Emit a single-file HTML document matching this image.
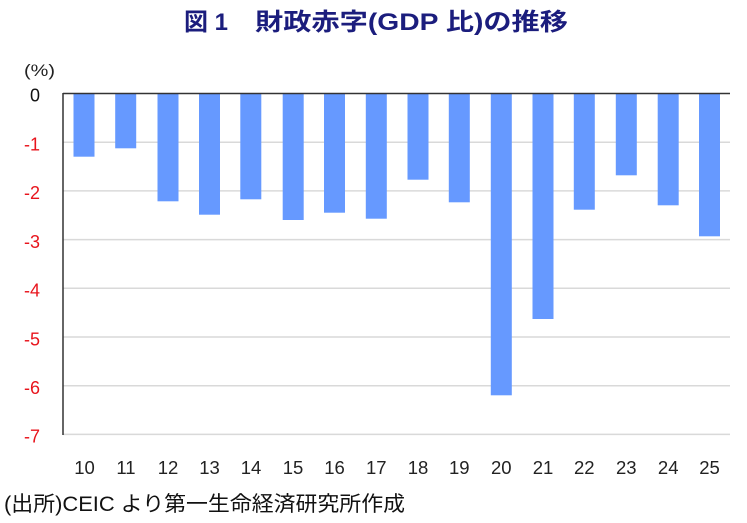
<!DOCTYPE html>
<html>
<head>
<meta charset="utf-8">
<style>
  html, body { margin: 0; padding: 0; background: #ffffff; }
  body { width: 747px; height: 523px; overflow: hidden; }
  svg { display: block; }
  text { font-family: "Liberation Sans", "Noto Sans CJK JP", sans-serif; }
</style>
</head>
<body>
<svg width="747" height="523" viewBox="0 0 747 523" xmlns="http://www.w3.org/2000/svg">
  <rect x="0" y="0" width="747" height="523" fill="#ffffff"/>

  <!-- Title -->
  <text x="184" y="30" font-size="24" font-weight="bold" fill="#1b1d7d">図 1</text>
  <text x="255" y="30" font-size="24" font-weight="bold" fill="#1b1d7d" textLength="313" lengthAdjust="spacingAndGlyphs">財政赤字(GDP 比)の推移</text>

  <!-- (%) -->
  <text x="24" y="76" font-size="17" fill="#222" textLength="31" lengthAdjust="spacingAndGlyphs">(%)</text>

  <!-- Gridlines -->
  <g stroke="#d9d9d9" stroke-width="1.5">
    <line x1="63" y1="142.2" x2="730" y2="142.2"/>
    <line x1="63" y1="190.9" x2="730" y2="190.9"/>
    <line x1="63" y1="239.6" x2="730" y2="239.6"/>
    <line x1="63" y1="288.3" x2="730" y2="288.3"/>
    <line x1="63" y1="337.0" x2="730" y2="337.0"/>
    <line x1="63" y1="385.7" x2="730" y2="385.7"/>
    <line x1="63" y1="434.4" x2="730" y2="434.4"/>
  </g>

  <!-- Bars -->
  <g fill="#6699ff">
    <rect x="73.5" y="93.5" width="21" height="63.2"/>
    <rect x="115.2" y="93.5" width="21" height="54.8"/>
    <rect x="157.5" y="93.5" width="21" height="107.8"/>
    <rect x="199.0" y="93.5" width="21" height="121.2"/>
    <rect x="240.3" y="93.5" width="21" height="105.8"/>
    <rect x="282.7" y="93.5" width="21" height="126.5"/>
    <rect x="324.0" y="93.5" width="21" height="119.2"/>
    <rect x="365.8" y="93.5" width="21" height="125.2"/>
    <rect x="407.5" y="93.5" width="21" height="86.2"/>
    <rect x="448.8" y="93.5" width="21" height="108.8"/>
    <rect x="490.8" y="93.5" width="21" height="301.8"/>
    <rect x="532.5" y="93.5" width="21" height="225.5"/>
    <rect x="573.8" y="93.5" width="21" height="116.2"/>
    <rect x="615.8" y="93.5" width="21" height="81.8"/>
    <rect x="657.7" y="93.5" width="21" height="111.8"/>
    <rect x="699.0" y="93.5" width="21" height="142.8"/>
  </g>

  <!-- Axes -->
  <line x1="63" y1="93.5" x2="730" y2="93.5" stroke="#333" stroke-width="1.5"/>
  <line x1="63" y1="93" x2="63" y2="435" stroke="#333" stroke-width="1.5"/>

  <!-- Y labels -->
  <g font-size="18" text-anchor="end">
    <text x="40" y="101.5" fill="#111">0</text>
    <text x="40" y="150.5" fill="#e8141c">-1</text>
    <text x="40" y="199" fill="#e8141c">-2</text>
    <text x="40" y="248" fill="#e8141c">-3</text>
    <text x="40" y="296.5" fill="#e8141c">-4</text>
    <text x="40" y="345.5" fill="#e8141c">-5</text>
    <text x="40" y="394" fill="#e8141c">-6</text>
    <text x="40" y="442.5" fill="#e8141c">-7</text>
  </g>

  <!-- X labels -->
  <g font-size="18.5" text-anchor="middle" fill="#222">
    <text x="84.5" y="474">10</text>
    <text x="126" y="474">11</text>
    <text x="168" y="474">12</text>
    <text x="209.5" y="474">13</text>
    <text x="251" y="474">14</text>
    <text x="293" y="474">15</text>
    <text x="334.5" y="474">16</text>
    <text x="376.3" y="474">17</text>
    <text x="418" y="474">18</text>
    <text x="459.3" y="474">19</text>
    <text x="501.3" y="474">20</text>
    <text x="543" y="474">21</text>
    <text x="584.3" y="474">22</text>
    <text x="626.3" y="474">23</text>
    <text x="668.2" y="474">24</text>
    <text x="709.5" y="474">25</text>
  </g>

  <!-- Footer -->
  <text x="4" y="511" font-size="21" fill="#111" textLength="401" lengthAdjust="spacingAndGlyphs">(出所)CEIC より第一生命経済研究所作成</text>
</svg>
</body>
</html>
